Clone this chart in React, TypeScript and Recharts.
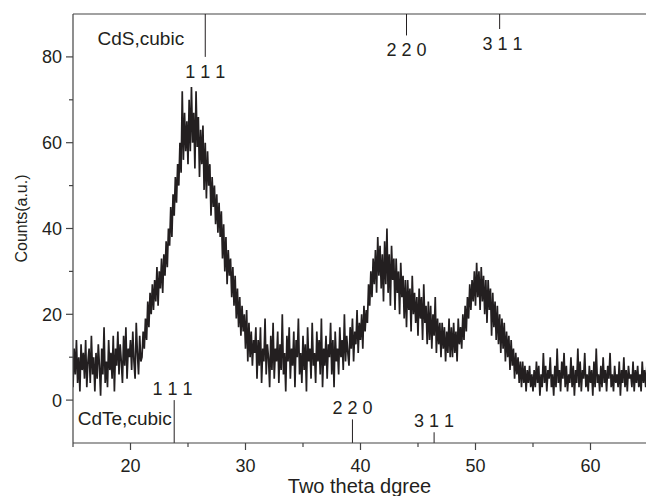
import { LineChart, Line, XAxis, YAxis, ReferenceLine, ReferenceDot } from 'recharts'

// XRD scan, sampled every 0.1 degree from 15 to 65
const startAngle = 15
const angleStep = 0.1

// 15.0 - 20.9
const countsLowAngle = [
  3, 12, 6, 14, 4, 10, 2, 13, 7, 11,
  5, 14, 3, 9, 12, 4, 15, 6, 10, 2,
  11, 5, 13, 8, 1, 12, 6, 17, 4, 9,
  3, 14, 7, 11, 5, 15, 2, 12, 8, 16,
  6, 13, 9, 4, 15, 8, 17, 5, 12, 10,
  14, 7, 16, 9, 5, 18, 11, 6, 15, 9,
]
// 21.0 - 30.9
const countsCdsPeak = [
  10, 16, 12, 19, 14, 23, 17, 25, 20, 27,
  21, 28, 23, 31, 22, 30, 26, 33, 25, 34,
  29, 37, 31, 40, 36, 45, 38, 48, 43, 52,
  46, 55, 50, 60, 53, 72, 56, 67, 58, 65,
  55, 70, 58, 73, 60, 67, 54, 72, 59, 66,
  52, 63, 55, 64, 49, 60, 47, 58, 50, 55,
  43, 52, 45, 50, 41, 48, 39, 46, 38, 44,
  33, 41, 30, 38, 27, 35, 29, 33, 24, 31,
  22, 29, 19, 26, 17, 24, 15, 22, 16, 20,
  12, 21, 9, 18, 10, 16, 8, 14, 11, 17,
]
// 31.0 - 39.9
const countsValley = [
  5, 14, 8, 17, 4, 12, 9, 19, 6, 13,
  10, 3, 15, 7, 18, 5, 12, 9, 16, 4,
  13, 7, 20, 6, 11, 2, 15, 9, 17, 5,
  12, 8, 16, 3, 14, 10, 19, 6, 11, 4,
  15, 7, 13, 2, 17, 9, 12, 5, 18, 8,
  11, 4, 16, 9, 14, 6, 19, 3, 12, 8,
  15, 5, 13, 10, 18, 6, 14, 3, 16, 9,
  12, 6, 17, 10, 14, 7, 20, 9, 15, 11,
  8, 17, 12, 19, 9, 16, 13, 21, 11, 18,
]
// 40.0 - 54.9
const countsMidPeaks = [
  14, 20, 12, 22, 16, 21, 18, 27, 22, 30,
  24, 33, 27, 35, 25, 38, 29, 36, 26, 34,
  23, 37, 27, 40, 25, 34, 22, 36, 28, 33,
  21, 33, 25, 30, 20, 32, 24, 29, 19, 28,
  17, 28, 21, 26, 16, 29, 20, 25, 18, 24,
  15, 26, 19, 24, 14, 27, 18, 22, 13, 23,
  14, 22, 12, 20, 15, 24, 11, 19, 13, 18,
  10, 18, 12, 17, 9, 16, 11, 19, 10, 17,
  10, 18, 11, 16, 9, 19, 13, 17, 12, 20,
  14, 22, 16, 24, 19, 27, 21, 28, 23, 30,
  22, 32, 24, 30, 21, 31, 23, 29, 20, 28,
  18, 28, 21, 26, 15, 25, 17, 23, 14, 22,
  13, 20, 11, 19, 12, 18, 9, 16, 10, 15,
  7, 14, 8, 12, 5, 11, 6, 10, 4, 9,
  3, 9, 4, 8, 2, 7, 4, 8, 3, 6,
]
// 55.0 - 65.0
const countsTail = [
  2, 7, 3, 9, 4, 8, 1, 6, 3, 11,
  4, 8, 2, 7, 5, 10, 3, 6, 1, 8,
  3, 12, 4, 7, 2, 9, 5, 11, 3, 8,
  2, 6, 4, 10, 3, 8, 1, 7, 4, 12,
  3, 9, 2, 7, 5, 11, 3, 6, 2, 8,
  4, 7, 1, 9, 3, 12, 4, 6, 2, 8,
  3, 10, 4, 7, 2, 8, 5, 11, 3, 6,
  2, 8, 4, 6, 3, 9, 1, 7, 4, 10,
  3, 7, 2, 8, 5, 6, 3, 9, 2, 7,
  4, 8, 3, 6, 2, 9, 4, 7, 3, 8,
  5,
]

const xTicks = [15, 20, 25, 30, 35, 40, 45, 50, 55, 60, 65]
const yTicks = [0, 10, 20, 30, 40, 50, 60, 70, 80]

// reference patterns (JCPDS lines)
const cdsHkl = ['1 1 1', '2 2 0', '3 1 1']
const cdsAngles = [26.5, 44.0, 52.1]
const cdsMarkEnds = [80, 85, 86.5]
const cdteHkl = ['1 1 1', '2 2 0', '3 1 1']
const cdteAngles = [23.8, 39.3, 46.4]
const cdteMarkEnds = [0, -4.5, -7.5]

const allCounts = [...countsLowAngle, ...countsCdsPeak, ...countsValley, ...countsMidPeaks, ...countsTail]
const data = allCounts.map((c, i) => ({
  angle: Math.round((startAngle + i * angleStep) * 10) / 10,
  counts: c,
}))

const font = '"Liberation Sans", Arial, sans-serif'
const ink = '#231f20'
const axisColor = '#444'
const TICK_SIZE = 7
const TICK_MARGIN = 3

function YTick({ x, y, payload }: any) {
  const major = payload.value % 20 === 0
  const axisX = x + TICK_SIZE + TICK_MARGIN
  return (
    <g>
      <line x1={axisX - (major ? 7 : 4)} x2={axisX} y1={y} y2={y} stroke={axisColor} strokeWidth={1.2} />
      {major && (
        <text x={x - 1} y={y + 6.5} textAnchor="end" fontSize={18} fontFamily={font} fill={ink}>
          {payload.value}
        </text>
      )}
    </g>
  )
}

function XTick({ x, y, payload }: any) {
  const major = payload.value % 10 === 0
  const axisY = y - TICK_SIZE - TICK_MARGIN
  return (
    <g>
      <line x1={x} x2={x} y1={axisY} y2={axisY + (major ? 7 : 4)} stroke={axisColor} strokeWidth={1.2} />
      {major && (
        <text x={x} y={axisY + 29} textAnchor="middle" fontSize={18} fontFamily={font} fill={ink}>
          {payload.value}
        </text>
      )}
    </g>
  )
}

export default function App() {
  return (
    <div style={{ position: 'absolute', left: 0, top: 0, width: 646, height: 496, overflow: 'hidden', background: '#fff' }}>
      <LineChart width={650} height={496} data={data} margin={{ top: 14, right: 2, bottom: 0, left: 0 }}>
        <XAxis
          dataKey="angle"
          type="number"
          domain={[15, 65]}
          ticks={xTicks}
          allowDataOverflow
          height={53}
          tickSize={TICK_SIZE}
          tickMargin={TICK_MARGIN}
          tickLine={false}
          axisLine={{ stroke: axisColor, strokeWidth: 1.2 }}
          tick={<XTick />}
          interval={0}
          label={{
            content: (p: any) => {
              const vb = p.viewBox || { x: 73, y: 443, width: 575 }
              return (
                <text x={vb.x + vb.width / 2 - 1} y={vb.y + 50} textAnchor="middle" fontSize={20} fontFamily={font} fill={ink}>
                  Two theta dgree
                </text>
              )
            },
          }}
        />
        <YAxis
          type="number"
          domain={[-10, 90]}
          ticks={yTicks}
          allowDataOverflow
          width={73}
          tickSize={TICK_SIZE}
          tickMargin={TICK_MARGIN}
          tickLine={false}
          axisLine={{ stroke: axisColor, strokeWidth: 1.2 }}
          tick={<YTick />}
          interval={0}
          label={{
            content: (p: any) => {
              const vb = p.viewBox || { x: 0, y: 14, height: 429 }
              const cx = vb.x + 27
              const cy = vb.y + vb.height / 2 - 10
              return (
                <text x={cx} y={cy} transform={`rotate(-90 ${cx} ${cy})`} textAnchor="middle" fontSize={16} fontFamily={font} fill={ink}>
                  Counts(a.u.)
                </text>
              )
            },
          }}
        />
        <ReferenceLine y={90} stroke={axisColor} strokeWidth={1.2} />
        <Line
          type="linear"
          dataKey="counts"
          stroke={ink}
          strokeWidth={1.7}
          dot={false}
          activeDot={false}
          isAnimationActive={false}
        />
        {cdsAngles.map((a, i) => (
          <ReferenceLine
            key={'cds' + i}
            segment={[{ x: a, y: 90 }, { x: a, y: cdsMarkEnds[i] }]}
            stroke={ink}
            strokeWidth={1}
          />
        ))}
        {cdteAngles.map((a, i) => (
          <ReferenceLine
            key={'cdte' + i}
            segment={[{ x: a, y: -10 }, { x: a, y: cdteMarkEnds[i] }]}
            stroke={ink}
            strokeWidth={1}
          />
        ))}
        {cdsAngles.map((a, i) => (
          <ReferenceDot
            key={'cdsl' + i}
            x={a + (i === 2 ? 0.25 : 0)}
            y={cdsMarkEnds[i]}
            r={0}
            fill="none"
            stroke="none"
            label={{ value: cdsHkl[i], position: 'bottom', offset: 8, fill: ink, fontSize: 18, fontFamily: font }}
          />
        ))}
        {cdteAngles.map((a, i) => (
          <ReferenceDot
            key={'cdtel' + i}
            x={a - (i === 0 ? 0.15 : 0)}
            y={cdteMarkEnds[i]}
            r={0}
            fill="none"
            stroke="none"
            label={{ value: cdteHkl[i], position: 'top', offset: 5, fill: ink, fontSize: 18, fontFamily: font }}
          />
        ))}
        <ReferenceDot
          x={20.9}
          y={84.4}
          r={0}
          fill="none"
          stroke="none"
          label={{ value: 'CdS,cubic', position: 'center', fill: ink, fontSize: 19, fontFamily: font }}
        />
        <ReferenceDot
          x={19.5}
          y={-4.2}
          r={0}
          fill="none"
          stroke="none"
          label={{ value: 'CdTe,cubic', position: 'center', fill: ink, fontSize: 19, fontFamily: font }}
        />
      </LineChart>
    </div>
  )
}
